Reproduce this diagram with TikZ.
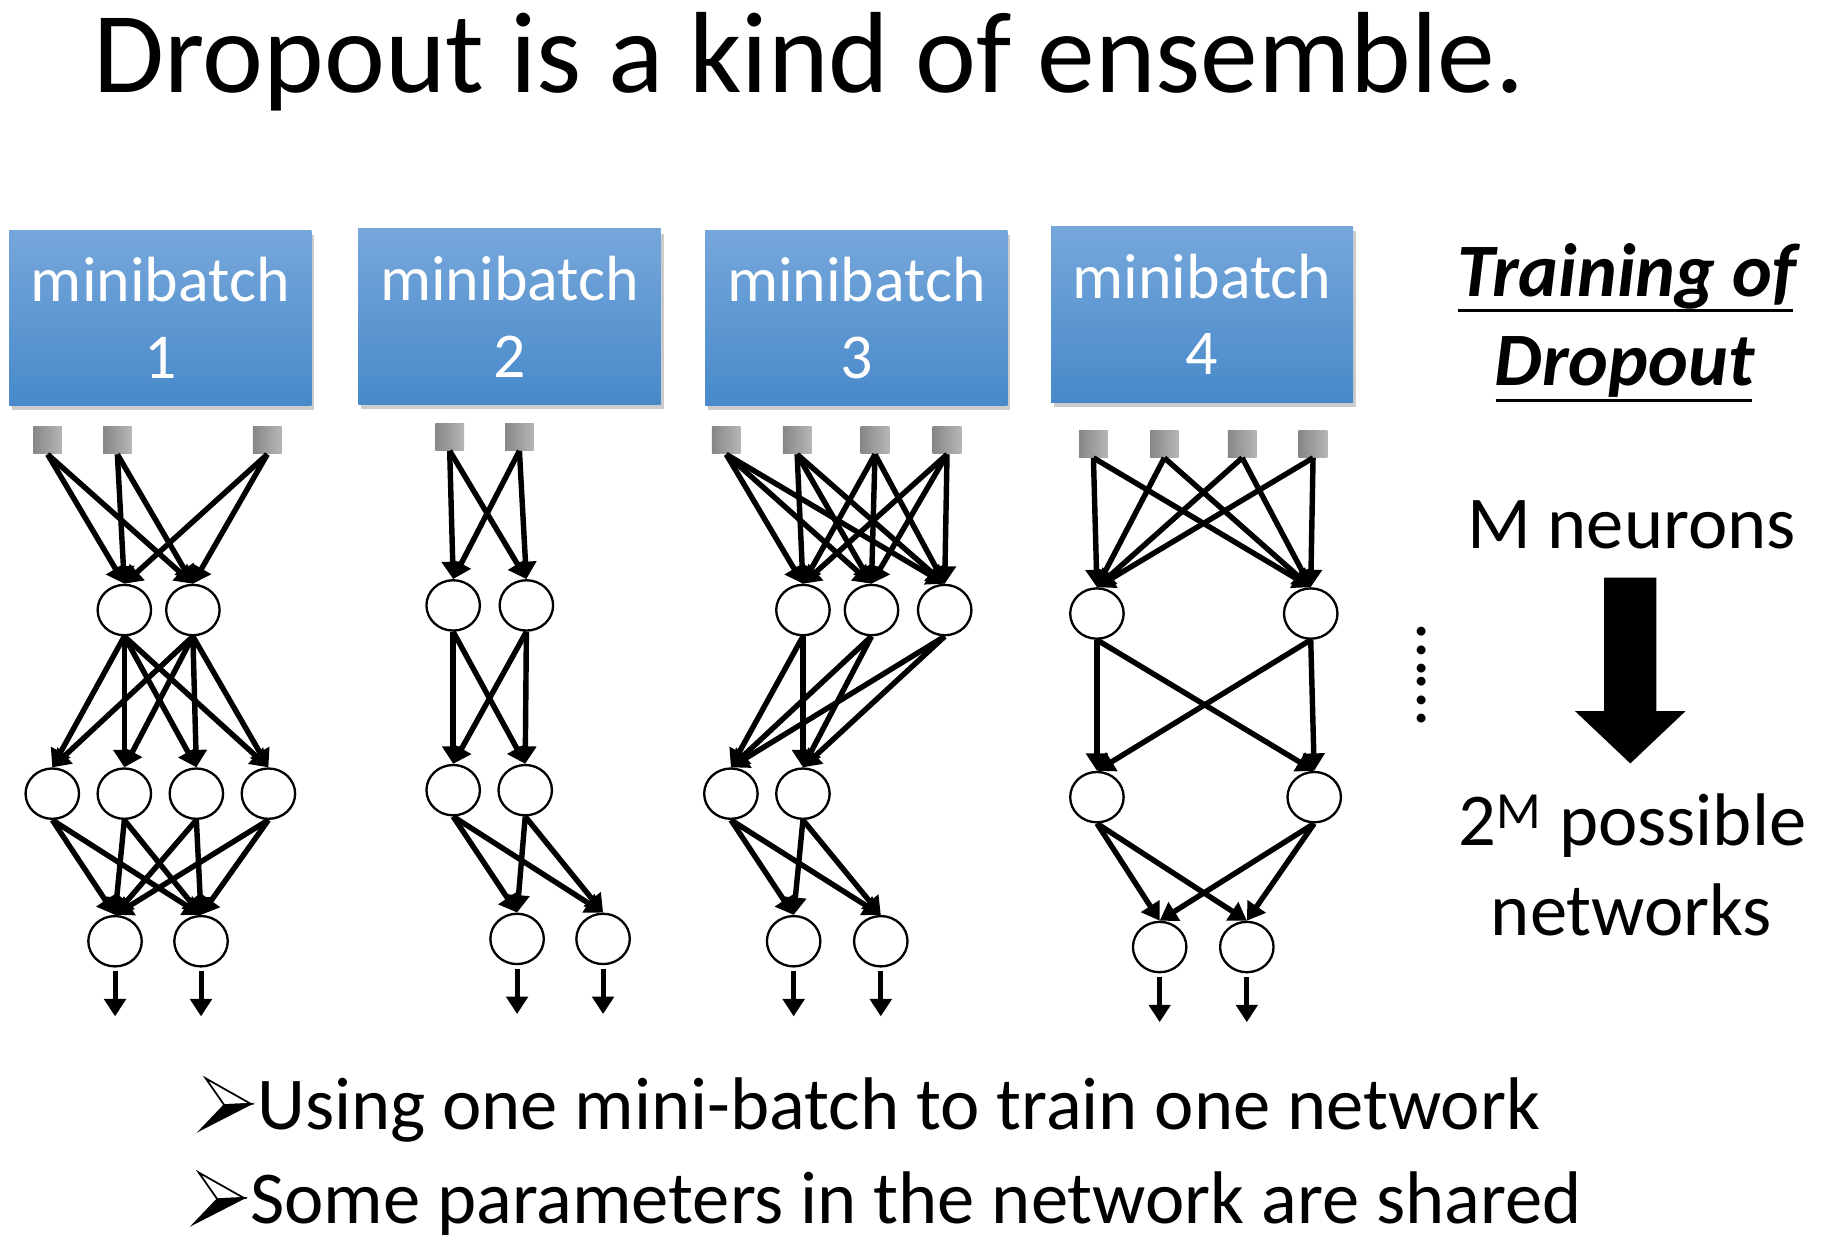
\documentclass[tikz,border=0pt]{standalone}
\usepackage{fontspec}
\setmainfont{Carlito}
\usetikzlibrary{arrows.meta,shapes.geometric,shadows,calc}

\definecolor{boxtop}{RGB}{118,167,219}
\definecolor{boxbot}{RGB}{72,137,201}
\definecolor{sqdark}{RGB}{135,135,135}
\definecolor{sqlight}{RGB}{182,182,182}

\tikzset{
  batch/.style={rectangle, minimum width=156pt, minimum height=90.6pt,
    top color=boxtop, bottom color=boxbot, text=white, align=center,
    font=\fontsize{33}{39.6}\selectfont,
    drop shadow={shadow xshift=1.5pt, shadow yshift=-2.5pt, opacity=0.4}},
  inp/.style={rectangle, minimum width=14.8pt, minimum height=14pt,
    inner sep=0pt, left color=sqdark, right color=sqlight},
  neuron/.style={ellipse, draw, line width=1.2pt, minimum width=27.6pt,
    minimum height=26pt, inner sep=0pt, fill=white},
  conn/.style={line width=2.8pt, -{Triangle[length=9pt,width=11pt]}},
  outconn/.style={line width=2.6pt, -{Triangle[length=9pt,width=11pt]}},
  bigtext/.style={inner sep=0pt, font=\fontsize{38.5}{46}\selectfont},
  % three-dimensional arrowhead used as a list marker, placed at a text's base west
  marker/.pic={
    \filldraw[fill=white, line width=0.9pt, line join=miter] (-44,-44) -- (-5,-22) -- (-28,-21) -- cycle;
    \filldraw[line width=0.9pt, line join=miter] (-28,-21) -- (-5,-22) -- (-48,0) -- cycle;
  },
}

\begin{document}
\begin{tikzpicture}[x=0.6pt, y=-0.6pt]
\fill[white] (0,0) rectangle (1568,1071);
\useasboundingbox (0,0) rectangle (1568,1071);

% title
\node[inner sep=0pt, anchor=base west, font=\fontsize{59.6}{70}\selectfont]
  (title) at (80,80) {Dropout is a kind of ensemble.};

% minibatch boxes
\node[batch] (mb1) at (138,273.5) {minibatch\\1};
\node[batch] (mb2) at (438.5,272.5) {minibatch\\2};
\node[batch] (mb3) at (737,273.5) {minibatch\\3};
\node[batch] (mb4) at (1034.5,270.5) {minibatch\\4};

% ---------- network 1 ----------
\node[inp] (n1s1) at (41,379) {};
\node[inp] (n1s2) at (101,379) {};
\node[inp] (n1s3) at (230,379) {};
\node[neuron] (n1h1) at (107,525) {};
\node[neuron] (n1h2) at (166,525) {};
\node[neuron] (n1g1) at (45,683) {};
\node[neuron] (n1g2) at (107,683) {};
\node[neuron] (n1g3) at (169,683) {};
\node[neuron] (n1g4) at (231,683) {};
\node[neuron] (n1o1) at (99,810) {};
\node[neuron] (n1o2) at (173,810) {};
\foreach \i in {1,2,3}{\foreach \j in {1,2}{\draw[conn] (n1s\i.south) -- (n1h\j.north);}}
\foreach \i in {1,2}{\foreach \j in {1,2,3,4}{\draw[conn] (n1h\i.south) -- (n1g\j.north);}}
\foreach \i in {1,2,3,4}{\foreach \j in {1,2}{\draw[conn] (n1g\i.south) -- (n1o\j.north);}}

% ---------- network 2 ----------
\node[inp] (n2s1) at (387,376) {};
\node[inp] (n2s2) at (447,376) {};
\node[neuron] (n2h1) at (390,521) {};
\node[neuron] (n2h2) at (453,521) {};
\node[neuron] (n2g1) at (390,680) {};
\node[neuron] (n2g2) at (452,680) {};
\node[neuron] (n2o1) at (445,808) {};
\node[neuron] (n2o2) at (519,808) {};
\foreach \i in {1,2}{\foreach \j in {1,2}{
  \draw[conn] (n2s\i.south) -- (n2h\j.north);
  \draw[conn] (n2h\i.south) -- (n2g\j.north);
  \draw[conn] (n2g\i.south) -- (n2o\j.north);}}

% ---------- network 3 ----------
\node[inp] (n3s1) at (625,379) {};
\node[inp] (n3s2) at (686,379) {};
\node[inp] (n3s3) at (753,379) {};
\node[inp] (n3s4) at (815,379) {};
\node[neuron] (n3h1) at (691,525) {};
\node[neuron] (n3h2) at (750,525) {};
\node[neuron] (n3h3) at (813,525) {};
\node[neuron] (n3g1) at (629,683) {};
\node[neuron] (n3g2) at (691,683) {};
\node[neuron] (n3o1) at (683,810) {};
\node[neuron] (n3o2) at (758,810) {};
\foreach \i in {1,2,3,4}{\foreach \j in {1,2,3}{\draw[conn] (n3s\i.south) -- (n3h\j.north);}}
\foreach \i in {1,2,3}{\foreach \j in {1,2}{\draw[conn] (n3h\i.south) -- (n3g\j.north);}}
\foreach \i in {1,2}{\foreach \j in {1,2}{\draw[conn] (n3g\i.south) -- (n3o\j.north);}}

% ---------- network 4 ----------
\node[inp] (n4s1) at (941,382) {};
\node[inp] (n4s2) at (1002,382) {};
\node[inp] (n4s3) at (1069,382) {};
\node[inp] (n4s4) at (1130,382) {};
\node[neuron] (n4h1) at (944,528) {};
\node[neuron] (n4h2) at (1128,528) {};
\node[neuron] (n4g1) at (944,686) {};
\node[neuron] (n4g2) at (1131,686) {};
\node[neuron] (n4o1) at (998,815) {};
\node[neuron] (n4o2) at (1073,815) {};
\foreach \i in {1,2,3,4}{\foreach \j in {1,2}{\draw[conn] (n4s\i.south) -- (n4h\j.north);}}
\foreach \i in {1,2}{\foreach \j in {1,2}{
  \draw[conn] (n4h\i.south) -- (n4g\j.north);
  \draw[conn] (n4g\i.south) -- (n4o\j.north);}}

% output arrows
\foreach \n in {1,2,3,4}{\foreach \k in {1,2}{
  \coordinate (n\n e\k) at ($(n\n o\k.south)+(0,42)$);
  \draw[outconn] ([yshift=-1.8pt]n\n o\k.south) -- (n\n e\k);}}

% vertical ellipsis
\node[inner sep=0pt, rotate=90, font=\fontsize{38}{46}\selectfont] (dots) at (1223,581) {……};

% right panel
\node[bigtext, anchor=base, font=\fontsize{39}{46}\bfseries\itshape] (tr1) at (1400,255) {Training of};
\node[bigtext, anchor=base, font=\fontsize{39}{46}\bfseries\itshape] (tr2) at (1398,332) {Dropout};
\draw[line width=1.5pt] (1255,267) -- (1543,267);
\draw[line width=1.5pt] (1287,345) -- (1508,345);
\node[bigtext, anchor=base] (mn) at (1404,472) {M neurons};
\node[bigtext, anchor=base] (pn) at (1405,728) {2\textsuperscript{M} possible};
\node[bigtext, anchor=base] (nw) at (1404,805) {networks};
\coordinate (bigtop) at (1403,497);
\fill ($(bigtop)+(-22.5,0)$) -- ($(bigtop)+(22.5,0)$) -- ($(bigtop)+(22.5,115)$)
  -- ($(bigtop)+(47.5,115)$) -- ($(bigtop)+(0,160)$) -- ($(bigtop)+(-47.5,115)$)
  -- ($(bigtop)+(-22.5,115)$) -- cycle;

% bullet lines
\node[bigtext, anchor=base west] (bl1) at (221,972) {Using one mini-batch to train one network};
\node[bigtext, anchor=base west] (bl2) at (215,1053) {Some parameters in the network are shared};
\pic at (bl1.base west) {marker};
\pic at (bl2.base west) {marker};
\end{tikzpicture}
\end{document}
